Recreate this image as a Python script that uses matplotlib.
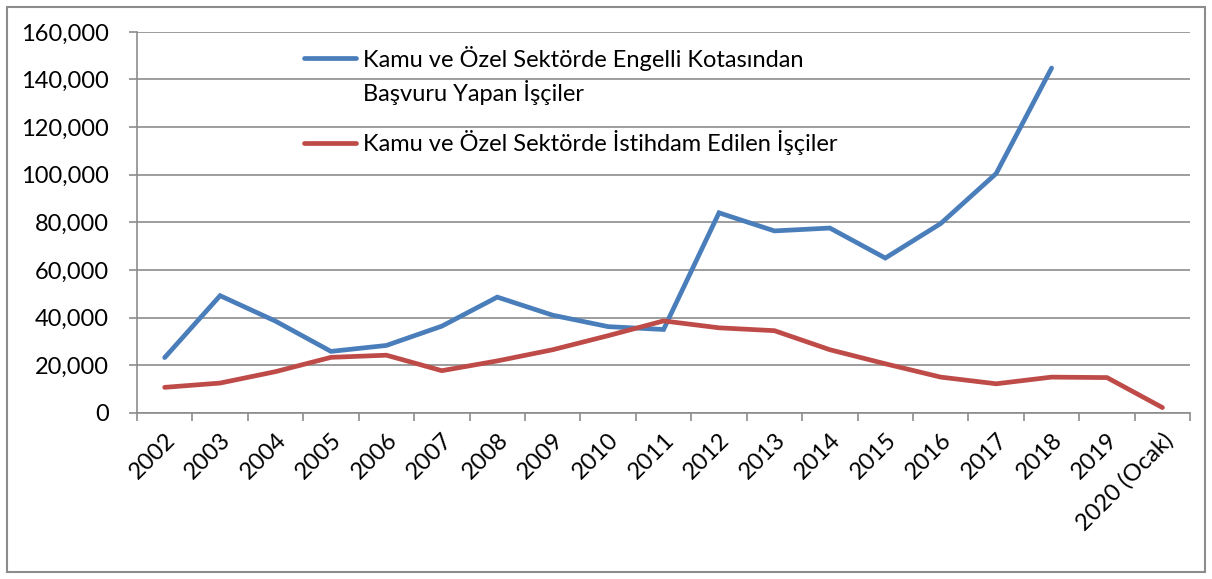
import numpy as np
import matplotlib.pyplot as plt
from matplotlib.ticker import FuncFormatter, FixedLocator
from matplotlib.legend_handler import HandlerLine2D

plt.rcParams['font.family'] = ['Lato', 'DejaVu Sans']

years = ['2002', '2003', '2004', '2005', '2006', '2007', '2008', '2009', '2010',
         '2011', '2012', '2013', '2014', '2015', '2016', '2017', '2018', '2019',
         '2020 (Ocak)']

# applicants via disability quota (no data for 2019, 2020)
basvuru = [23200, 49200, 38500, 25800, 28300, 36400, 48600, 41000, 36200,
           35000, 84000, 76400, 77600, 65000, 79500, 100500, 144800]
# employed
istihdam = [10700, 12500, 17300, 23300, 24200, 17700, 21800, 26500, 32400,
            38600, 35700, 34500, 26500, 20600, 15000, 12200, 15000, 14800, 2200]

label_b = 'Kamu ve Özel Sektörde Engelli Kotasından\nBaşvuru Yapan İşçiler'
label_i = 'Kamu ve Özel Sektörde İstihdam Edilen İşçiler'


# legend line sits on the first text line, like Excel does
class FirstLineHandler(HandlerLine2D):
    def __init__(self, dy, **kw):
        super().__init__(**kw)
        self.dy = dy

    def create_artists(self, legend, orig_handle, xdescent, ydescent, width, height,
                       fontsize, trans):
        arts = super().create_artists(legend, orig_handle, xdescent, ydescent, width,
                                      height, fontsize, trans)
        for a in arts:
            a.set_ydata(np.asarray(a.get_ydata()) + self.dy)
        return arts


fig = plt.figure(figsize=(12.12, 5.79), dpi=100)
ax = fig.add_axes([0.113, 0.287, 0.869, 0.658])

# chart border
fig.patches.append(plt.Rectangle((0.006, 0.012), 0.988, 0.976, transform=fig.transFigure,
                                 fill=False, edgecolor='#8c8c8c', linewidth=1.5))

x = list(range(len(years)))
lb, = ax.plot(x[:len(basvuru)], basvuru, color='#4A7EBB', linewidth=3.4, label=label_b,
              solid_capstyle='round', solid_joinstyle='miter')
li, = ax.plot(x, istihdam, color='#BE4B48', linewidth=3.4, label=label_i,
              solid_capstyle='round', solid_joinstyle='miter')

ax.set_xlim(-0.5, len(years) - 0.5)
ax.set_ylim(0, 160000)
ax.set_yticks(range(0, 160001, 20000))
ax.yaxis.set_major_formatter(FuncFormatter(lambda v, p: f'{int(v):,}'))
ax.grid(axis='y', color='#8c8c8c', linewidth=1.2)
ax.set_axisbelow(True)

ax.set_xticks(x)
ax.set_xticklabels(years, rotation=45, ha='right', rotation_mode='anchor')
ax.xaxis.set_minor_locator(FixedLocator([i - 0.5 for i in range(len(years) + 1)]))
ax.tick_params(axis='x', which='major', length=0, pad=12)
ax.tick_params(axis='x', which='minor', length=6, color='#8c8c8c', width=1.2)
ax.tick_params(axis='y', length=6, color='#8c8c8c', width=1.2, pad=14)
ax.tick_params(labelsize=17)

for s in ['top', 'right']:
    ax.spines[s].set_visible(False)
for s in ['left', 'bottom']:
    ax.spines[s].set_color('#8c8c8c')
    ax.spines[s].set_linewidth(1.2)

leg = ax.legend(loc='upper left', bbox_to_anchor=(0.233, 0.958), bbox_transform=fig.transFigure,
                frameon=False, fontsize=17, handlelength=2.2, handletextpad=0.3,
                labelspacing=1.07, handler_map={lb: FirstLineHandler(12.5)})
for t in leg.get_texts():
    t.set_linespacing(1.45)

fig.savefig('out.png', dpi=100)
